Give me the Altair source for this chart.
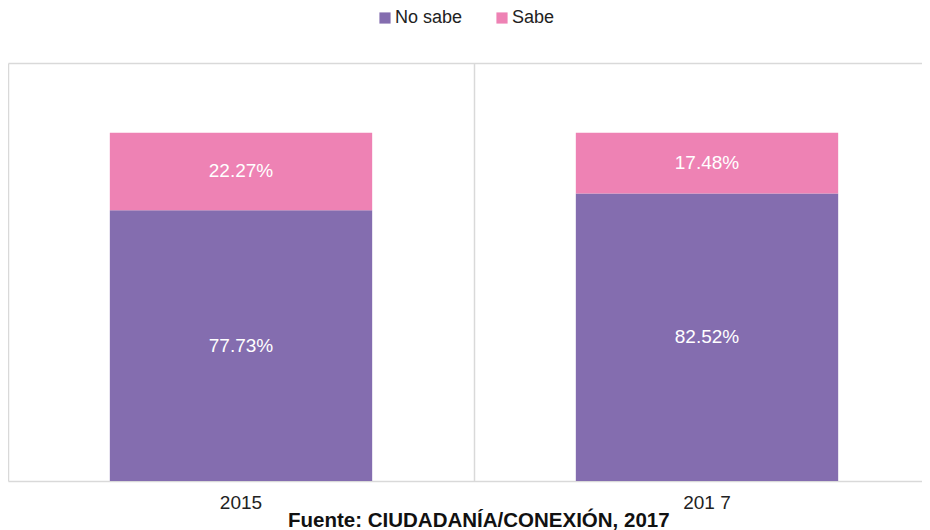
import altair as alt
import pandas as pd

years = ["2015", "201 7"]
no_sabe = [77.73, 82.52]
sabe = [22.27, 17.48]
series = ["No sabe", "Sabe"]
colors = ["#846daf", "#ee82b4"]

rows = []
for i, y in enumerate(years):
    rows.append({"year": y, "serie": "No sabe", "value": no_sabe[i] / 100, "order": 0})
    rows.append({"year": y, "serie": "Sabe", "value": sabe[i] / 100, "order": 1})
df = pd.DataFrame(rows)

FONT = "Liberation Sans"
GRID = "#d9d9d9"

base = alt.Chart(df).encode(
    x=alt.X("year:N", sort=years,
            scale=alt.Scale(paddingInner=0, paddingOuter=0, range=[0, 932]),
            axis=alt.Axis(title=None, labelAngle=0, labelFontSize=19, labelColor="#222222",
                          labelFont=FONT, ticks=False, domain=True, domainColor=GRID,
                          domainWidth=1.5, grid=True, gridColor=GRID, gridWidth=1.5,
                          bandPosition=0, labelPadding=12)),
)

bars = base.mark_bar(width=alt.RelativeBandSize(0.563)).encode(
    y=alt.Y("value:Q", stack="zero", scale=alt.Scale(domain=[0, 1.2], nice=False),
            axis=alt.Axis(values=[1.2], labels=False, ticks=False, domain=False, title=None,
                          grid=True, gridColor=GRID, gridWidth=1.5)),
    color=alt.Color("serie:N", sort=series,
                    scale=alt.Scale(domain=series, range=colors),
                    legend=alt.Legend(title=None, orient="none", direction="horizontal",
                                      legendX=368, legendY=-54, symbolType="square",
                                      symbolSize=125, symbolStrokeWidth=0, labelFontSize=18,
                                      labelFont=FONT, labelColor="#222222",
                                      columnPadding=30, labelOffset=1)),
    order=alt.Order("order:Q"),
)

text = base.mark_text(color="white", fontSize=19, font=FONT).encode(
    y=alt.Y("value:Q", stack="zero", bandPosition=0.5),
    text=alt.Text("value:Q", format=".2%"),
    detail="serie:N",
    order=alt.Order("order:Q"),
)

chart = alt.layer(bars, text).properties(
    width=914,
    height=418,
    padding={"left": 0, "top": 55, "right": 0, "bottom": 49},
    autosize=alt.AutoSizeParams(type="none"),
    title=alt.TitleParams("Fuente: CIUDADANÍA/CONEXIÓN, 2017", orient="bottom",
                          anchor="start", fontSize=20.5, font=FONT, fontWeight="bold",
                          color="#111111", offset=-1, dx=280),
).configure_view(stroke=None)

chart.save("out.html", embed_options={"renderer": "svg", "actions": False})
